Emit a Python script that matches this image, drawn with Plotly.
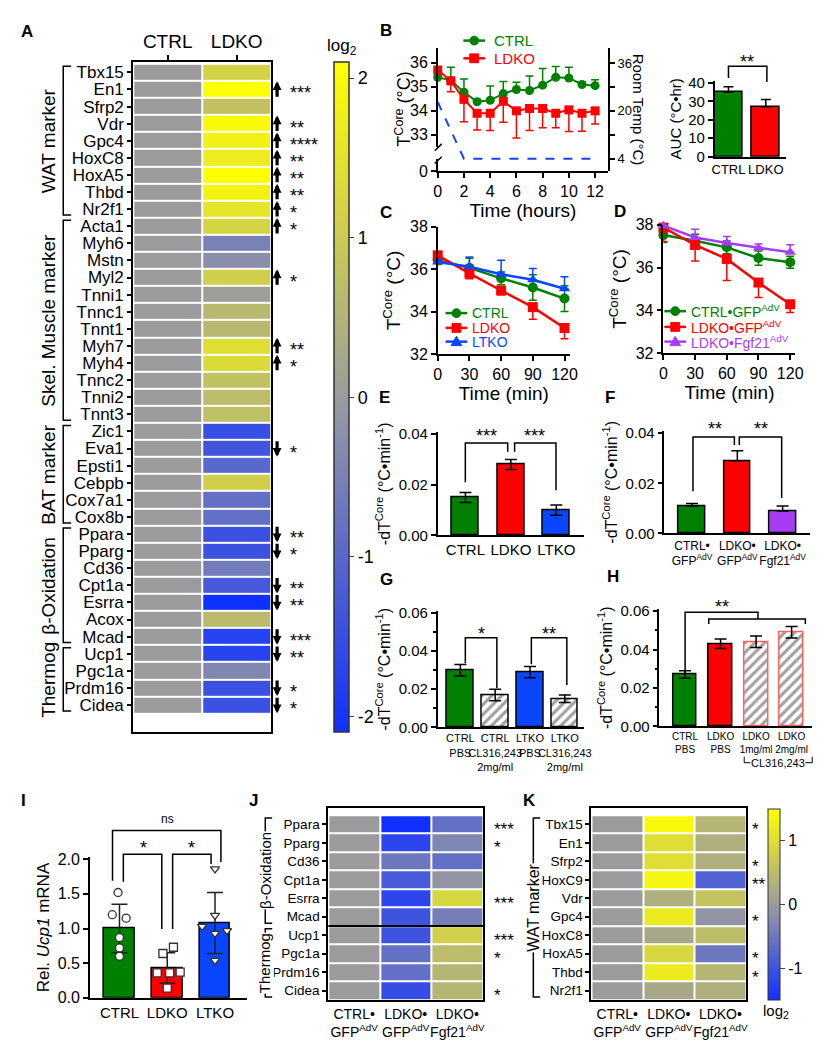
import plotly.graph_objects as go

W, H = 827, 1050
FONT = "Arial, Liberation Sans, Helvetica, sans-serif"
NARROW = "Liberation Sans Narrow, Arial Narrow, Arial, Liberation Sans, sans-serif"
GREEN, RED, BLUE, PURPLE = "#008000", "#ff0000", "#0a46ff", "#a83cf5"

# ---------------- data ----------------
# Panel A (log2 fold change, LDKO vs CTRL)
genesA = ["Tbx15", "En1", "Sfrp2", "Vdr", "Gpc4", "HoxC8", "HoxA5", "Thbd", "Nr2f1",
          "Acta1", "Myh6", "Mstn", "Myl2", "Tnni1", "Tnnc1", "Tnnt1", "Myh7", "Myh4", "Tnnc2", "Tnni2", "Tnnt3",
          "Zic1", "Eva1", "Epsti1", "Cebpb", "Cox7a1", "Cox8b",
          "Ppara", "Pparg", "Cd36", "Cpt1a", "Esrra", "Acox", "Mcad",
          "Ucp1", "Pgc1a", "Prdm16", "Cidea"]
colsA = ["CTRL", "LDKO"]
ctrlA = [0.0, 0.0, 0.0, 0.0, 0.0, 0.0, 0.0, 0.0, 0.0,
         0.0, 0.0, 0.0, 0.0, 0.0, 0.0, 0.0, 0.0, 0.0, 0.0, 0.0, 0.0,
         0.0, 0.0, 0.0, 0.0, 0.0, 0.0,
         0.0, 0.0, 0.0, 0.0, 0.0, 0.0, 0.0,
         0.0, 0.0, 0.0, 0.0]
ldkoA = [1.15, 2.05, 0.8, 2.0, 1.8, 1.7, 2.1, 1.85, 1.55,
         1.2, -0.5, -0.25, 1.1, 0.05, 0.6, 0.6, 1.4, 1.35, 0.8, 0.7, 0.75,
         -1.5, -1.35, -1.0, 1.1, -0.85, -0.85,
         -1.45, -1.45, -0.6, -1.3, -2.1, 0.65, -1.75,
         -1.75, -0.4, -1.45, -1.45]
sigA = ["", "***", "", "**", "****", "**", "**", "**", "*",
        "*", "", "", "*", "", "", "", "**", "*", "", "", "",
        "", "*", "", "", "", "",
        "**", "*", "", "**", "**", "", "***",
        "**", "", "*", "*"]
groupsA = [("WAT marker", 0, 8), ("Skel. Muscle marker", 9, 20), ("BAT marker", 21, 26),
           ("β-Oxidation", 27, 33), ("Thermog", 34, 37)]

# Panel B (core temperature during cold exposure)
timeB = [0, 1, 2, 3, 4, 5, 6, 7, 8, 9, 10, 11, 12]
ctrlB = [35.4, 35.27, 34.78, 34.38, 34.44, 34.72, 34.89, 34.85, 35.07, 35.4, 35.37, 35.1, 35.05]
ctrlB_sd = [0.1, 0.55, 0.55, 0.1, 0.6, 0.5, 0.3, 0.6, 0.7, 0.45, 0.45, 0.1, 0.25]
ldkoB = [35.7, 35.25, 34.48, 33.9, 33.9, 34.4, 34.0, 34.1, 34.1, 33.9, 34.04, 33.9, 34.0]
ldkoB_sd = [0.1, 0.45, 0.93, 0.7, 0.72, 0.87, 1.13, 0.92, 0.8, 0.6, 0.9, 0.75, 0.55]
roomT_time = [0, 2, 12]
roomT = [23, 4, 4]
aucGroups = ["CTRL", "LDKO"]
aucVals = [35, 27]
aucSd = [2.9, 4.0]

# Panel C
timeC = [0, 30, 60, 90, 120]
ctrlC = [36.42, 36.06, 35.57, 35.14, 34.62]
ctrlC_sd = [0.2, 0.45, 0.3, 0.6, 0.6]
ldkoC = [36.65, 35.8, 35.0, 34.22, 33.24]
ldkoC_sd = [0.1, 0.25, 0.2, 0.57, 0.5]
ltkoC = [36.34, 36.11, 35.76, 35.5, 35.08]
ltkoC_sd = [0.1, 0.46, 0.66, 0.53, 0.57]

# Panel D
timeD = [0, 30, 60, 90, 120]
ctrlD = [37.51, 37.25, 36.94, 36.44, 36.25]
ctrlD_sd = [0.35, 0.3, 0.3, 0.33, 0.28]
ldkoD = [37.86, 37.05, 36.4, 35.3, 34.29]
ldkoD_sd = [0.65, 0.75, 1.0, 0.7, 0.38]
fgfD = [37.95, 37.4, 37.14, 36.91, 36.71]
fgfD_sd = [0.1, 0.38, 0.3, 0.18, 0.35]

# Panel E
labelsE = ["CTRL", "LDKO", "LTKO"]
valsE = [0.015, 0.028, 0.010]
sdE = [0.002, 0.002, 0.002]

# Panel F
labelsF = ["CTRL•<br>GFP<sup>AdV</sup>", "LDKO•<br>GFP<sup>AdV</sup>", "LDKO•<br>Fgf21<sup>AdV</sup>"]
valsF = [0.011, 0.029, 0.009]
sdF = [0.001, 0.004, 0.002]

# Panel G
labelsG = ["CTRL<br>PBS", "CTRL<br>CL316,243<br>2mg/ml", "LTKO<br>PBS", "LTKO<br>CL316,243<br>2mg/ml"]
valsG = [0.030, 0.017, 0.029, 0.015]
sdG = [0.003, 0.003, 0.003, 0.002]

# Panel H
labelsH = ["CTRL<br>PBS", "LDKO<br>PBS", "LDKO<br>1mg/ml", "LDKO<br>2mg/ml"]
valsH = [0.027, 0.043, 0.044, 0.049]
sdH = [0.002, 0.0025, 0.003, 0.003]

# Panel I
labelsI = ["CTRL", "LDKO", "LTKO"]
valsI = [1.0, 0.43, 1.08]
sdI = [0.35, 0.22, 0.44]
ptsI_ctrl = [1.52, 1.2, 1.15, 0.87, 0.72, 0.6]
ptsI_ldko = [0.64, 0.73, 0.36, 0.36, 0.37, 0.14]
ptsI_ltko = [1.86, 1.19, 1.03, 0.93, 0.97, 0.54]
jitI_ctrl = [-0.03, -0.15, 0.14, 0.0, 0.0, 0.0]
jitI_ldko = [-0.09, 0.13, -0.21, 0.05, 0.27, 0.0]
jitI_ltko = [0.0, 0.0, -0.27, 0.0, 0.25, 0.0]

# Panel J
colsJK = ["CTRL•<br>GFP<sup>AdV</sup>", "LDKO•<br>GFP<sup>AdV</sup>", "LDKO•<br>Fgf21<sup>AdV</sup>"]
genesJ = ["Ppara", "Pparg", "Cd36", "Cpt1a", "Esrra", "Mcad", "Ucp1", "Pgc1a", "Prdm16", "Cidea"]
ctrlJ = [0.0, 0.0, 0.0, 0.0, 0.0, 0.0, 0.0, 0.0, 0.0, 0.0]
ldkoJ = [-1.5, -1.2, -0.5, -0.9, -1.2, -1.0, -1.0, -0.6, -0.6, -1.1]
fgfJ = [-0.6, -0.3, -0.6, -0.1, 0.9, -0.4, 0.8, 0.5, 0.4, 0.4]
sigJ = ["***", "*", "", "", "***", "", "***", "*", "", "*"]

# Panel K
genesK = ["Tbx15", "En1", "Sfrp2", "HoxC9", "Vdr", "Gpc4", "HoxC8", "HoxA5", "Thbd", "Nr2f1"]
ctrlK = [0.0, 0.0, 0.0, 0.0, 0.0, 0.0, 0.0, 0.0, 0.0, 0.0]
ldkoK = [1.4, 1.0, 1.0, 1.35, 0.3, 1.2, 0.2, 0.9, 1.2, 0.2]
fgfK = [0.4, 0.3, 0.3, -0.8, 0.6, -0.1, 0.5, -0.5, 0.4, 0.3]
sigK = ["*", "", "*", "**", "", "*", "", "*", "*", ""]

# ---------------- helpers ----------------
def X(px):
    return px / W


def Y(py):
    return 1 - py / H


def xd(a, b):
    return [a / W, b / W]


def yd(a, b):
    return [1 - b / H, 1 - a / H]


shapes = []
annotations = []


def seg(points, width=1.5, color="black"):
    path = "M " + " L ".join(f"{X(x):.5f},{Y(y):.5f}" for x, y in points)
    shapes.append(dict(type="path", path=path, xref="paper", yref="paper",
                       line=dict(color=color, width=width)))


def txt(x, y, s, size=15, xanchor="center", yanchor="middle", angle=0, color="black",
        bg=None, family=FONT):
    a = dict(x=X(x), y=Y(y), xref="paper", yref="paper", text=s, showarrow=False,
             xanchor=xanchor, yanchor=yanchor, textangle=angle,
             font=dict(size=size, color=color, family=family))
    if bg:
        a["bgcolor"] = bg
        a["borderpad"] = 0
    annotations.append(a)


def stars(x, y, s, size=18):
    # y = visual centre of the asterisks
    txt(x, y + size * 0.28, s, size=size)


def legend_item(xc, y, color, symbol, label, tx, size=14, half=11, r=4.5):
    seg([(xc - half, y), (xc + half, y)], width=2.5, color=color)
    if symbol == "circle":
        shapes.append(dict(type="circle", xref="paper", yref="paper", x0=X(xc - r), x1=X(xc + r),
                           y0=Y(y + r), y1=Y(y - r), fillcolor=color, line=dict(color=color, width=1)))
    elif symbol == "square":
        shapes.append(dict(type="rect", xref="paper", yref="paper", x0=X(xc - r), x1=X(xc + r),
                           y0=Y(y + r), y1=Y(y - r), fillcolor=color, line=dict(color=color, width=1)))
    else:
        p = [(xc, y - r * 1.2), (xc + r * 1.2, y + r * 0.9), (xc - r * 1.2, y + r * 0.9)]
        path = "M " + " L ".join(f"{X(a):.5f},{Y(b):.5f}" for a, b in p) + " Z"
        shapes.append(dict(type="path", path=path, xref="paper", yref="paper", fillcolor=color,
                           line=dict(color=color, width=1)))
    txt(tx, y, label, size=size, xanchor="left", color=color)


base = dict(showline=True, linecolor="black", linewidth=1.5, ticks="outside", ticklen=5,
            tickwidth=1.5, tickcolor="black", showgrid=False, zeroline=False, tickangle=0,
            tickfont=dict(size=15, color="black", family=FONT), fixedrange=True)
lay = {}


def ax(name, **kw):
    d = dict(base)
    d.update(kw)
    lay[name] = d


csA = [[0, "#1030ff"], [0.5, "#9b9b9e"], [1, "#ffff00"]]

fig = go.Figure()

# ---------------- Panel A ----------------
zA = [[c, l] for c, l in zip(ctrlA, ldkoA)]
fig.add_trace(go.Heatmap(z=zA, x=colsA, y=genesA, colorscale=csA, zmin=-2.1, zmax=2.1,
                         xgap=2, ygap=2, xaxis="x", yaxis="y", hoverinfo="skip",
                         colorbar=dict(x=X(327), xanchor="left", xpad=0, ypad=0,
                                       y=Y((47 + 728) / 2), yanchor="middle",
                                       len=681 / H, thickness=15, outlinewidth=1.5, outlinecolor="#333",
                                       tickvals=[-2, -1, 0, 1, 2], ticktext=["-2", "-1", "0", "1", "2"],
                                       ticks="outside", ticklen=5,
                                       tickfont=dict(size=18, family=FONT, color="black"))))
txt(335, 32, "log<sub>2</sub>", size=17)
ax("xaxis", domain=xd(123, 263), anchor="y", side="top", mirror=True, linewidth=2,
   tickfont=dict(size=19, family=FONT, color="black"))
ax("yaxis", domain=yd(47, 728), anchor="x", autorange="reversed", mirror=True, linewidth=2,
   ticklen=4, dtick=1, tick0=0, tickfont=dict(size=17, family=FONT, color="black"))
for i, (g, v, s) in enumerate(zip(genesA, ldkoA, sigA)):
    if s:
        up = v > 0
        annotations.append(dict(x=X(269), y=i - 0.48 if up else i + 0.48, xref="paper", yref="y",
                                showarrow=True, text="", ax=0, ay=17 if up else -17,
                                arrowhead=2, arrowsize=0.55, arrowwidth=3.2, arrowcolor="black", standoff=0))
        annotations.append(dict(x=X(280), y=g, xref="paper", yref="y", showarrow=False,
                                text=s, xanchor="left", yshift=-4,
                                font=dict(size=18, family=FONT, color="black")))
for name, i0, i1 in groupsA:
    shapes.append(dict(type="path",
                       path=f"M {X(60)},{i0 - 0.35} L {X(52)},{i0 - 0.35} L {X(52)},{i1 + 0.35} L {X(60)},{i1 + 0.35}",
                       xref="paper", yref="y", line=dict(color="black", width=1.5)))
    annotations.append(dict(x=X(37), y=(i0 + i1) / 2, xref="paper", yref="y", showarrow=False,
                            xanchor="center", yanchor="middle",
                            text=name, textangle=-90, font=dict(size=19, family=FONT, color="black")))

# ---------------- Panel B ----------------
z0 = [0] * len(timeB)
fig.add_trace(go.Scatter(x=timeB, y=ctrlB, mode="lines+markers", xaxis="x2", yaxis="y2", showlegend=False,
                         line=dict(color=GREEN, width=2), marker=dict(symbol="circle", size=9, color=GREEN),
                         error_y=dict(type="data", symmetric=False, array=ctrlB_sd, arrayminus=z0,
                                      color=GREEN, thickness=1.5, width=4), cliponaxis=False))
fig.add_trace(go.Scatter(x=timeB, y=ldkoB, mode="lines+markers", xaxis="x2", yaxis="y2", showlegend=False,
                         line=dict(color=RED, width=2), marker=dict(symbol="square", size=9, color=RED),
                         error_y=dict(type="data", symmetric=False, array=z0, arrayminus=ldkoB_sd,
                                      color=RED, thickness=1.5, width=4), cliponaxis=False))
fig.add_trace(go.Scatter(x=roomT_time, y=roomT, mode="lines", xaxis="x2", yaxis="y4", showlegend=False,
                         line=dict(color="#1a40ff", width=2, dash="dash")))
fig.add_trace(go.Scatter(x=[], y=[], xaxis="x2", yaxis="y3", showlegend=False))
ax("xaxis2", domain=xd(432, 605), anchor="y3", range=[0, 13], tickvals=[0, 2, 4, 6, 8, 10, 12],
   tickfont=dict(size=16, family=FONT, color="black"),
   title=dict(text="Time (hours)", font=dict(size=19, family=FONT, color="black"), standoff=2))
ax("yaxis2", domain=yd(33, 133), anchor="x2", range=[32.5, 36.6], tickvals=[33, 34, 35, 36],
   tickfont=dict(size=16, family=FONT, color="black"))
ax("yaxis3", domain=yd(145, 158), anchor="x2", range=[0, 0.5], tickvals=[0],
   tickfont=dict(size=16, family=FONT, color="black"))
ax("yaxis4", domain=yd(33, 158), anchor="x2", side="right", range=[-0.25, 40.9],
   tickvals=[4, 12, 20, 28, 36], ticktext=["4", " ", "20", " ", "36"],
   tickfont=dict(size=13, family=FONT, color="black"))
seg([(429, 137), (436, 130)])
seg([(429, 150), (436, 143)])
txt(397, 95, "T<sup>Core</sup> (°C)", size=18, angle=-90)
txt(636, 95, "Room Temp (°C)", size=15, angle=90)
legend_item(469, 25, GREEN, "circle", "CTRL", 487, size=15)
legend_item(469, 43, RED, "square", "LDKO", 487, size=15)

# AUC inset
fig.add_trace(go.Bar(x=[0, 1], y=aucVals, width=0.74, xaxis="x3", yaxis="y5", showlegend=False,
                     marker=dict(color=[GREEN, RED], line=dict(color="black", width=1.5)),
                     error_y=dict(type="data", symmetric=False, array=aucSd, arrayminus=[0, 0],
                                  color="black", thickness=1.5, width=5), cliponaxis=False))
ax("xaxis3", domain=xd(713, 785), anchor="y5", range=[-0.37, 1.53], tickvals=[0, 1], ticktext=aucGroups,
   ticks="", tickfont=dict(size=13, family=FONT, color="black"))
ax("yaxis5", domain=yd(66, 143), anchor="x3", range=[0, 41], tickvals=[0, 10, 20, 30, 40],
   tickfont=dict(size=15, family=FONT, color="black"),
   title=dict(text="AUC (°C•hr)", font=dict(size=15, family=FONT, color="black"), standoff=3))
seg([(727, 63), (727, 51), (766, 51), (766, 67)])
stars(746, 42, "**")

# ---------------- Panel C ----------------
zc = [0] * len(timeC)
for yv, sd, col, sym, mode in [(ctrlC, ctrlC_sd, GREEN, "circle", "both"),
                               (ldkoC, ldkoC_sd, RED, "square", "down"),
                               (ltkoC, ltkoC_sd, BLUE, "triangle-up", "up")]:
    ey = dict(type="data", symmetric=(mode == "both"), array=sd if mode != "down" else zc,
              arrayminus=sd if mode != "up" else zc, color=col, thickness=1.5, width=4)
    fig.add_trace(go.Scatter(x=timeC, y=yv, mode="lines+markers", xaxis="x4", yaxis="y6", showlegend=False,
                             line=dict(color=col, width=2.5), marker=dict(symbol=sym, size=10, color=col),
                             error_y=ey, cliponaxis=False))
ax("xaxis4", domain=xd(432, 566), anchor="y6", range=[0, 125], tickvals=timeC,
   tickfont=dict(size=16, family=FONT, color="black"),
   title=dict(text="Time (min)", font=dict(size=19, family=FONT, color="black"), standoff=2))
ax("yaxis6", domain=yd(214, 344), anchor="x4", range=[32, 38], tickvals=[32, 34, 36, 38],
   tickfont=dict(size=16, family=FONT, color="black"),
   title=dict(text="T<sup>Core</sup> (°C)", font=dict(size=19, family=FONT, color="black"), standoff=4))
legend_item(451, 302, GREEN, "circle", "CTRL", 465)
legend_item(451, 317, RED, "square", "LDKO", 465)
legend_item(451, 331, BLUE, "triangle", "LTKO", 465)

# ---------------- Panel D ----------------
for yv, sd, col, sym, mode in [(ctrlD, ctrlD_sd, GREEN, "circle", "both"),
                               (ldkoD, ldkoD_sd, RED, "square", "down"),
                               (fgfD, fgfD_sd, PURPLE, "triangle-up", "up")]:
    ey = dict(type="data", symmetric=(mode == "both"), array=sd if mode != "down" else zc,
              arrayminus=sd if mode != "up" else zc, color=col, thickness=1.5, width=4)
    fig.add_trace(go.Scatter(x=timeD, y=yv, mode="lines+markers", xaxis="x5", yaxis="y7", showlegend=False,
                             line=dict(color=col, width=2.5), marker=dict(symbol=sym, size=10, color=col),
                             error_y=ey, cliponaxis=False))
ax("xaxis5", domain=xd(661, 795), anchor="y7", range=[0, 125], tickvals=timeD,
   tickfont=dict(size=16, family=FONT, color="black"),
   title=dict(text="Time (min)", font=dict(size=19, family=FONT, color="black"), standoff=2))
ax("yaxis7", domain=yd(212, 343), anchor="x5", range=[32, 38], tickvals=[32, 34, 36, 38],
   tickfont=dict(size=16, family=FONT, color="black"),
   title=dict(text="T<sup>Core</sup> (°C)", font=dict(size=19, family=FONT, color="black"), standoff=4))
legend_item(673, 300, GREEN, "circle", "CTRL•GFP<sup>AdV</sup>", 687)
legend_item(673, 316, RED, "square", "LDKO•GFP<sup>AdV</sup>", 687)
legend_item(673, 331, PURPLE, "triangle", "LDKO•Fgf21<sup>AdV</sup>", 687)

# ---------------- Bar panels E-H ----------------
DT = "-dT<sup>Core</sup> (°C•min<sup>-1</sup>)"


def bar_panel(xa, ya, vals, sd, fills, fg, width, up_only=False, line_cols=None):
    n = len(vals)
    fig.add_trace(go.Bar(x=list(range(n)), y=vals, width=width, xaxis=xa, yaxis=ya, showlegend=False,
                         marker=dict(color=fills,
                                     line=dict(color=line_cols or ["black"] * n, width=1.5),
                                     pattern=dict(shape=["/" if f == "white" else "" for f in fills],
                                                  fgcolor=fg, fillmode="overlay", size=7, solidity=0.45)),
                         error_y=dict(type="data", symmetric=not up_only, array=sd,
                                      arrayminus=[0] * n if up_only else sd,
                                      color="black", thickness=1.5, width=6), cliponaxis=False))


bar_panel("x6", "y8", valsE, sdE, [GREEN, RED, BLUE], [GREEN, RED, BLUE], 0.59)
ax("xaxis6", domain=xd(432, 580), anchor="y8", range=[-0.61, 2.6], tickvals=[0, 1, 2], ticktext=labelsE,
   ticks="", tickfont=dict(size=15, family=FONT, color="black"))
ax("yaxis8", domain=yd(423, 528), anchor="x6", range=[0, 0.0408], tickvals=[0, 0.02, 0.04],
   tickformat=".2f", tickfont=dict(size=15, family=FONT, color="black"),
   title=dict(text=DT, font=dict(size=16, family=FONT, color="black"), standoff=4))
seg([(460, 474), (460, 434), (503, 434), (503, 443)])
seg([(510, 443), (510, 434), (552, 434), (552, 482)])
stars(481, 422, "***")
stars(530, 422, "***")

bar_panel("x7", "y9", valsF, sdF, [GREEN, RED, PURPLE], [GREEN, RED, PURPLE], 0.59, up_only=True)
ax("xaxis7", domain=xd(662, 810), anchor="y9", range=[-0.61, 2.61], tickvals=[0, 1, 2], ticktext=labelsF,
   ticks="", tickfont=dict(size=12, family=NARROW, color="black"))
ax("yaxis9", domain=yd(422, 526), anchor="x7", range=[0, 0.0408], tickvals=[0, 0.02, 0.04],
   tickformat=".2f", tickfont=dict(size=15, family=FONT, color="black"),
   title=dict(text=DT, font=dict(size=16, family=FONT, color="black"), standoff=4))
seg([(691, 483), (691, 428), (733, 428), (733, 436)])
seg([(738, 436), (738, 428), (781, 428), (781, 490)])
stars(713, 415, "**")
stars(760, 415, "**")

bar_panel("x8", "y10", valsG, sdG, [GREEN, "white", BLUE, "white"], [GREEN, GREEN, BLUE, BLUE], 0.77)
ax("xaxis8", domain=xd(432, 580), anchor="y10", range=[-0.65, 3.54], tickvals=[0, 1, 2, 3], ticktext=labelsG,
   ticks="", tickfont=dict(size=11, family=NARROW, color="black"))
ax("yaxis10", domain=yd(605, 723), anchor="x8", range=[0, 0.061], tickvals=[0, 0.02, 0.04, 0.06],
   tickformat=".2f", tickfont=dict(size=15, family=FONT, color="black"),
   minor=dict(ticks="outside", ticklen=3, dtick=0.01, tickcolor="black"),
   title=dict(text=DT, font=dict(size=16, family=FONT, color="black"), standoff=4))
seg([(460, 658), (460, 632), (492, 632), (492, 683)])
seg([(527, 659), (527, 632), (563, 632), (563, 680)])
stars(476, 623, "*")
stars(545, 623, "**")

bar_panel("x9", "y11", valsH, sdH, [GREEN, RED, "white", "white"], [GREEN, RED, "#ff5050", "#ff5050"],
          0.67, line_cols=["black", "black", "#ff6060", "#ff6060"])
ax("xaxis9", domain=xd(657, 812), anchor="y11", range=[-0.72, 3.58], tickvals=[0, 1, 2, 3], ticktext=labelsH,
   ticks="", tickfont=dict(size=10, family=NARROW, color="black"))
ax("yaxis11", domain=yd(603, 722), anchor="x9", range=[0, 0.061], tickvals=[0, 0.02, 0.04, 0.06],
   tickformat=".2f", tickfont=dict(size=15, family=FONT, color="black"),
   minor=dict(ticks="outside", ticklen=3, dtick=0.01, tickcolor="black"),
   title=dict(text=DT, font=dict(size=16, family=FONT, color="black"), standoff=4))
seg([(683, 668), (683, 606), (757, 606), (757, 613)])
seg([(707, 618), (707, 613), (805, 613), (805, 618)])
stars(720, 596, "**")
seg([(743, 753), (743, 759), (812, 759), (812, 753)], width=1)
txt(777, 759, "CL316,243", size=11, bg="white", family=NARROW)

# ---------------- Panel I ----------------
fig.add_trace(go.Bar(x=[0, 1, 2], y=valsI, width=0.64, xaxis="x10", yaxis="y12", showlegend=False,
                     marker=dict(color=[GREEN, RED, BLUE], line=dict(color="black", width=1.5)),
                     error_y=dict(type="data", array=sdI, color="#222", thickness=1.5, width=8),
                     cliponaxis=False))
for k, (pts, jit, sym) in enumerate([(ptsI_ctrl, jitI_ctrl, "circle"), (ptsI_ldko, jitI_ldko, "square"),
                                     (ptsI_ltko, jitI_ltko, "triangle-down")]):
    fig.add_trace(go.Scatter(x=[k + j for j in jit], y=pts, mode="markers", xaxis="x10", yaxis="y12",
                             showlegend=False, cliponaxis=False,
                             marker=dict(symbol=sym, size=8, color="white", line=dict(color="#333", width=1.3))))
ax("xaxis10", domain=xd(79, 238), anchor="y12", range=[-0.62, 2.66], tickvals=[0, 1, 2], ticktext=labelsI,
   ticks="", tickfont=dict(size=15, family=FONT, color="black"))
ax("yaxis12", domain=yd(855, 998), anchor="x10", range=[0, 2.03], tickvals=[0, 0.5, 1, 1.5, 2],
   tickformat=".1f", tickfont=dict(size=16, family=FONT, color="black"),
   title=dict(text="Rel. <i>Ucp1</i> mRNA", font=dict(size=17, family=FONT, color="black"), standoff=4))
seg([(113, 880), (113, 852), (152, 852), (152, 928)])
seg([(163, 928), (163, 852), (202, 852), (202, 862)])
seg([(102, 879), (102, 828), (212, 828), (212, 860)])
stars(133, 841, "*")
stars(182, 841, "*")
txt(158, 816, "ns", size=12)

# ---------------- Panels J, K ----------------
zJ = [[c, l, f] for c, l, f in zip(ctrlJ, ldkoJ, fgfJ)]
fig.add_trace(go.Heatmap(z=zJ, x=colsJK, y=genesJ, colorscale=csA, zmin=-1.5, zmax=1.5, xgap=2, ygap=2,
                         xaxis="x11", yaxis="y13", showscale=False, hoverinfo="skip"))
zK = [[c, l, f] for c, l, f in zip(ctrlK, ldkoK, fgfK)]
fig.add_trace(go.Heatmap(z=zK, x=colsJK, y=genesK, colorscale=csA, zmin=-1.5, zmax=1.5, xgap=2, ygap=2,
                         xaxis="x12", yaxis="y14", hoverinfo="skip",
                         colorbar=dict(x=X(767), xanchor="left", xpad=0, ypad=0, y=Y(903), yanchor="middle",
                                       len=194 / H, thickness=12, outlinewidth=1, outlinecolor="#333",
                                       tickvals=[-1, 0, 1], ticktext=["-1", "0", "1"], ticks="outside",
                                       ticklen=5, tickfont=dict(size=16, family=FONT, color="black"))))
txt(775, 1012, "log<sub>2</sub>", size=15)
for xa, ya, xdom in [("xaxis11", "yaxis13", (321, 478)), ("xaxis12", "yaxis14", (588, 745))]:
    ax(xa, domain=xd(*xdom), anchor=ya.replace("axis", ""), mirror=True, linewidth=2, ticks="",
       tickfont=dict(size=14, family=FONT, color="black"))
    ax(ya, domain=yd(805, 1000), anchor=xa.replace("axis", ""), autorange="reversed", mirror=True,
       linewidth=2, ticklen=4, dtick=1, tick0=0, tickfont=dict(size=13.5, family=FONT, color="black"))
shapes.append(dict(type="line", xref="x11 domain", x0=0, x1=1, yref="y13", y0=5.5, y1=5.5,
                   line=dict(color="black", width=2)))
for g, s in zip(genesJ, sigJ):
    if s:
        annotations.append(dict(x=X(487), y=g, xref="paper", yref="y13", showarrow=False, text=s,
                                xanchor="left", yshift=-5, font=dict(size=17, family=FONT, color="black")))
for g, s in zip(genesK, sigK):
    if s:
        annotations.append(dict(x=X(749), y=g, xref="paper", yref="y14", showarrow=False, text=s,
                                xanchor="left", yshift=-5, font=dict(size=17, family=FONT, color="black")))
for ref, name, i0, i1, xl, size in [("y13", "β-Oxidation", 0, 5, 257, 15), ("y13", "Thermog", 6, 9, 257, 15),
                                    ("y14", "WAT marker", 0, 9, 529, 16)]:
    shapes.append(dict(type="path",
                       path=f"M {X(xl + 7)},{i0 - 0.35} L {X(xl)},{i0 - 0.35} L {X(xl)},{i1 + 0.35} L {X(xl + 7)},{i1 + 0.35}",
                       xref="paper", yref=ref, line=dict(color="black", width=1.5)))
    annotations.append(dict(x=X(xl), y=(i0 + i1) / 2, xref="paper", yref=ref, showarrow=False,
                            xanchor="center", yanchor="middle",
                            text=name, textangle=-90, bgcolor="white", borderpad=0,
                            font=dict(size=size, family=FONT, color="black")))

# ---------------- panel letters ----------------
for L, x, y in [("A", 15, 16), ("B", 380, 15), ("C", 380, 200), ("D", 617, 199), ("E", 378, 388),
                ("F", 607, 388), ("G", 380, 573), ("H", 610, 570), ("I", 12, 797), ("J", 245, 797),
                ("K", 525, 797)]:
    txt(x, y, f"<b>{L}</b>", size=17)

fig.update_layout(
    width=W, height=H, autosize=False, margin=dict(l=0, r=0, t=0, b=0),
    paper_bgcolor="white", plot_bgcolor="rgba(0,0,0,0)",
    font=dict(family=FONT, color="black"), showlegend=False,
    shapes=shapes, annotations=annotations, bargap=0, hovermode=False,
    **lay,
)
fig.write_html("out.html")
